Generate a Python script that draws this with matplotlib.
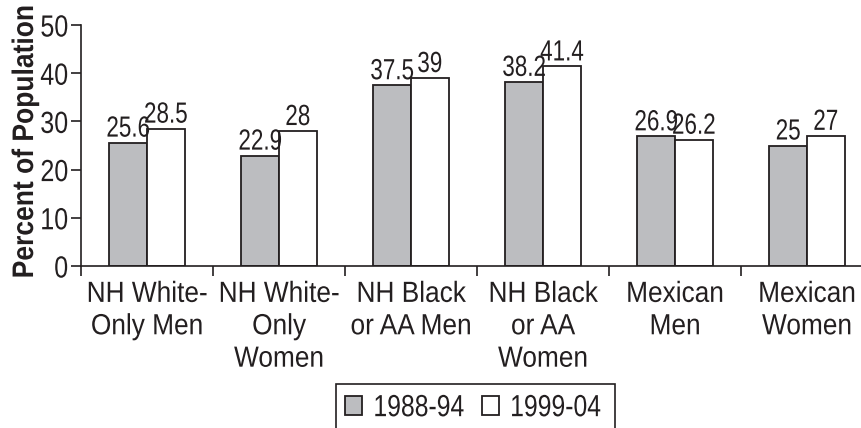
import numpy as np
import matplotlib
matplotlib.use("Agg")
import matplotlib.pyplot as plt
from matplotlib.patches import Rectangle
from matplotlib.patheffects import AbstractPathEffect
from matplotlib.transforms import Affine2D

groups = ["NH White-\nOnly Men", "NH White-\nOnly\nWomen", "NH Black\nor AA Men",
          "NH Black\nor AA\nWomen", "Mexican\nMen", "Mexican\nWomen"]
period1 = [25.6, 22.9, 37.5, 38.2, 26.9, 25]
period2 = [28.5, 28, 39, 41.4, 26.2, 27]
labels1 = ["25.6", "22.9", "37.5", "38.2", "26.9", "25"]
labels2 = ["28.5", "28", "39", "41.4", "26.2", "27"]
series_names = ["1988-94", "1999-04"]


class Squeeze(AbstractPathEffect):
    """Condense glyphs along the text direction (narrow-face look)."""

    def __init__(self, sx, anchor="center", vertical=False):
        super().__init__()
        self.sx = sx
        self.anchor = anchor
        self.vertical = vertical

    def draw_path(self, renderer, gc, tpath, affine, rgbFace=None):
        ext = affine.transform_path(tpath).get_extents()
        if self.vertical:
            c = (ext.y0 + ext.y1) / 2
            sq = Affine2D().translate(0, -c).scale(1, self.sx).translate(0, c)
        else:
            c = {"left": ext.x0, "right": ext.x1, "center": (ext.x0 + ext.x1) / 2}[self.anchor]
            sq = Affine2D().translate(-c, 0).scale(self.sx, 1).translate(c, 0)
        renderer.draw_path(gc, tpath, affine + sq, rgbFace)


plt.rcParams['font.family'] = ['Liberation Sans', 'DejaVu Sans']
ink = "#231f20"
gray = "#bcbdc0"

fig = plt.figure(figsize=(8.61, 4.28), dpi=100)
ax = fig.add_axes([81 / 861, 162 / 428, 792 / 861, 241 / 428])

x = np.arange(len(groups))
w = 0.285
b1 = ax.bar(x - w / 2, period1, w, color=gray, edgecolor=ink, linewidth=1.3, label=series_names[0])
b2 = ax.bar(x + w / 2, period2, w, color="white", edgecolor=ink, linewidth=1.3, label=series_names[1])

for bars, labs in [(b1, labels1), (b2, labels2)]:
    for rect, txt in zip(bars, labs):
        ax.text(rect.get_x() + rect.get_width() / 2, rect.get_height(), txt,
                ha="center", va="bottom", fontsize=21, color=ink,
                path_effects=[Squeeze(0.77)])

ax.set_xlim(-0.5, len(groups) - 0.5)
ax.set_ylim(0, 50)
ax.set_yticks(range(0, 51, 10))
ax.tick_params(axis="y", direction="out", length=7, width=1.2, colors=ink, labelsize=22, pad=2)
for lbl in ax.get_yticklabels():
    lbl.set_path_effects([Squeeze(0.82, anchor="right")])

# group separators as major ticks, group names as minor tick labels
ax.set_xticks(np.arange(-0.5, len(groups), 1.0))
ax.set_xticklabels([])
ax.tick_params(axis="x", which="major", direction="out", length=7, width=1.2, colors=ink)
ax.set_xticks(x, minor=True)
ax.set_xticklabels(groups, minor=True, fontsize=21, color=ink, linespacing=1.2, va="top")
ax.tick_params(axis="x", which="minor", length=0, pad=10)
for lbl in ax.get_xticklabels(minor=True):
    lbl.set_path_effects([Squeeze(0.9)])

for s in ["top", "right"]:
    ax.spines[s].set_visible(False)
for s in ["left", "bottom"]:
    ax.spines[s].set_color(ink)
    ax.spines[s].set_linewidth(1.2)

ax.set_ylabel("Percent of Population", fontsize=21.4, fontweight="bold", color=ink)
ax.yaxis.set_label_coords(-0.053, 0.517)
ax.yaxis.label.set_path_effects([Squeeze(0.89, vertical=True)])

leg = fig.legend(handles=[b1, b2], loc="upper left", bbox_to_anchor=(336 / 861, 1 - 384 / 428),
                 ncol=2, frameon=False, fontsize=22, handlelength=0.55, handleheight=0.55,
                 handletextpad=0.36, columnspacing=-0.1, borderpad=0.3, borderaxespad=0)
for t in leg.get_texts():
    t.set_color(ink)
    t.set_path_effects([Squeeze(0.81, anchor="left")])

# legend box, open at the bottom edge of the figure
fig.patches.append(Rectangle((336 / 861, -0.02), (615 - 336) / 861, 0.02 + 1 - 384 / 428,
                             transform=fig.transFigure, fill=False, edgecolor=ink, linewidth=1.2))

fig.savefig("out.png", dpi=100)
